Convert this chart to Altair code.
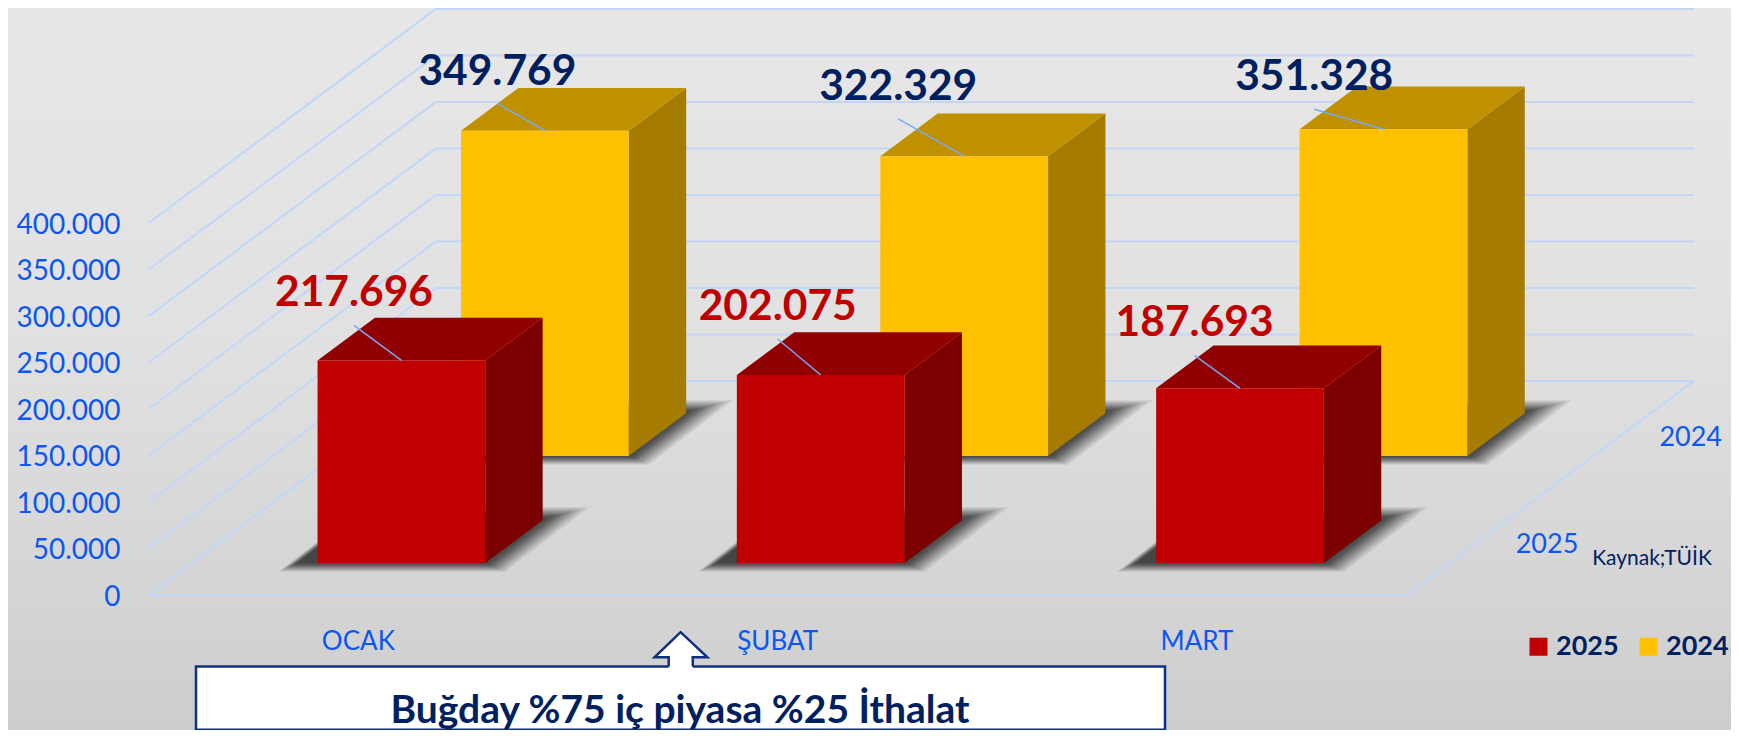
import altair as alt
import pandas as pd

# ---- data
months = ["OCAK", "ŞUBAT", "MART"]
values_2025 = [217696, 202075, 187693]
values_2024 = [349769, 322329, 351328]
label_2025 = ["217.696", "202.075", "187.693"]
label_2024 = ["349.769", "322.329", "351.328"]
axis_ticks = [0, 50000, 100000, 150000, 200000, 250000, 300000, 350000, 400000]
series = ["2025", "2024"]
note = "Buğday %75 iç piyasa %25 İthalat"
source = "Kaynak;TÜİK"

# ---- layout
W, H = 1723, 722
K = 0.00093       # px per value unit
FLOOR = 587.0     # plot y of value 0 at front of floor
X0, PITCH, DX = 140.7, 419.3, 287.0
DV = 230000.0     # vertical run of the floor depth, in value units
NAVY, BLUE, GRID, LEAD = "#002060", "#0B57F0", "#C2D6FA", "#78A8F8"
FONT = "Lato"
# label offsets from the centre of each front-top edge (dx, up) in px
off_2025 = [(-47.4, 67), (-43, 68), (-45.4, 65)]
off_2024 = [(-47.5, 59), (-66, 69.4), (-69.3, 52)]
# spread of the stacked translucent shapes that make the soft floor shadow
shadow_spread = [15, 13, 11, 9.5, 8, 6.5, 5, 4, 3, 2, 1, 0, -1, -2, -3.5, -5]


def X(col, d):
    return X0 + col * PITCH + d * DX


def Yv(val, d):
    return val + d * DV


def rx(x):
    return x - 8


def ry(y):
    return (FLOOR - (1 + (y - 4.3) * 0.9853)) / K


xs = alt.Scale(domain=[0, W], range=[0, W], nice=False, zero=False)
ys = alt.Scale(domain=[(FLOOR - H) / K, FLOOR / K], nice=False, zero=False)
y_axis = alt.Axis(
    values=axis_ticks, orient="left", offset=-112, domain=False, ticks=False, grid=False,
    labelPadding=0, labelFont=FONT, labelFontSize=28, labelColor=BLUE, labelOffset=2,
    labelFlush=False, labelOverlap=False, title=None, zindex=1,
    labelExpr="replace(format(datum.value, ','), ',', '.')")
xe = alt.X("x:Q", scale=xs, axis=None)
x2e = alt.X2("x2:Q")
ye = alt.Y("y:Q", scale=ys, axis=y_axis)
y2e = alt.Y2("y2:Q")

# ---- background
bg = pd.DataFrame({"x": [0], "x2": [W], "y": [ys.domain[0]], "y2": [ys.domain[1]]})
bg_layer = alt.Chart(bg).mark_rect(
    color=alt.Gradient(
        gradient="linear", x1=0, x2=0, y1=0, y2=1,
        stops=[
            alt.GradientStop(offset=0, color="#E7E7E7"),
            alt.GradientStop(offset=0.45, color="#E1E1E1"),
            alt.GradientStop(offset=0.8, color="#D5D5D5"),
            alt.GradientStop(offset=1, color="#CDCDCD"),
        ],
    )
).encode(x=xe, x2=x2e, y=ye, y2=y2e)

# ---- grid lines of wall and floor
rows = []
for t in axis_ticks:
    rows += [dict(id=f"b{t}", x=X(0, 1), y=Yv(t, 1), o=0), dict(id=f"b{t}", x=X(3, 1), y=Yv(t, 1), o=1)]
    rows += [dict(id=f"s{t}", x=X(0, 0), y=Yv(t, 0), o=0), dict(id=f"s{t}", x=X(0, 1), y=Yv(t, 1), o=1)]
rows += [dict(id="f", x=X(0, 0), y=Yv(0, 0), o=0), dict(id="f", x=X(3, 0), y=Yv(0, 0), o=1), dict(id="f", x=X(3, 1), y=Yv(0, 1), o=2)]
grid_layer = alt.Chart(pd.DataFrame(rows)).mark_line(color=GRID, strokeWidth=2).encode(
    x=xe, y=ye, detail="id:N", order="o:Q")

legend = alt.Legend(
    orient="none", legendX=rx(1525), legendY=625, direction="horizontal", columns=2, title=None,
    symbolType="square", symbolSize=324, symbolStrokeWidth=0, labelFont=FONT, labelFontSize=27,
    labelFontWeight="bold", labelColor=NAVY, columnPadding=16, labelOffset=4, padding=0)
colour = alt.Color("year:N", scale=alt.Scale(domain=series, range=["#C00000", "#FFC000"]), legend=legend)


def bar_layers(values, row, year, top, side):
    df_, db_ = row * 0.5 + 0.15, row * 0.5 + 0.35
    shadow, tops, sides, fronts = [], [], [], []
    for c, v in enumerate(values):
        L, R = X(c + 0.3, df_), X(c + 0.7, df_)
        base, back = Yv(0, df_), Yv(0, db_)
        for n, e in enumerate(shadow_spread):
            low = base - (2 + 0.45 * e) / K
            hi = back + (4 + 0.6 * e) / K
            s = 1.3 * (hi - low) * K
            shadow += [
                dict(id=f"{c}-{n}", y=low, x=L - 24 - e, x2=R + 5 + e),
                dict(id=f"{c}-{n}", y=hi, x=L - 24 - e + s, x2=R + 5 + e + s),
            ]
        tops += [
            dict(id=c, y=Yv(v, df_), x=L, x2=R),
            dict(id=c, y=Yv(v, db_), x=X(c + 0.3, db_), x2=X(c + 0.7, db_)),
        ]
        sides += [
            dict(id=c, x=R, y=Yv(0, df_), y2=Yv(v, df_)),
            dict(id=c, x=X(c + 0.7, db_), y=Yv(0, db_), y2=Yv(v, db_)),
        ]
        fronts.append(dict(year=year, x=L, x2=R, y=Yv(0, df_), y2=Yv(v, df_)))
    return [
        alt.Chart(pd.DataFrame(shadow)).mark_area(orient="horizontal", color="#1E1E1E", opacity=0.09)
        .encode(y=ye, x=xe, x2=x2e, detail="id:N"),
        alt.Chart(pd.DataFrame(sides)).mark_area(orient="vertical", color=side)
        .encode(x=xe, y=ye, y2=y2e, detail="id:N"),
        alt.Chart(pd.DataFrame(tops)).mark_area(orient="horizontal", color=top)
        .encode(y=ye, x=xe, x2=x2e, detail="id:N"),
        alt.Chart(pd.DataFrame(fronts)).mark_rect().encode(x=xe, x2=x2e, y=ye, y2=y2e, color=colour),
    ]


layers_2024 = bar_layers(values_2024, 1, "2024", "#BF9000", "#A67C00")
layers_2025 = bar_layers(values_2025, 0, "2025", "#900000", "#7C0000")

# ---- data labels and their leader lines
lab_rows, lead_rows = [], []
for vals, labs, offs, row, col in [
    (values_2024, label_2024, off_2024, 1, NAVY),
    (values_2025, label_2025, off_2025, 0, "#C00000"),
]:
    d = row * 0.5 + 0.15
    for c, (v, t, (dx, up)) in enumerate(zip(vals, labs, offs)):
        ax, ay = X(c + 0.5, d), Yv(v, d)
        lx, ly = ax + dx, ay + up / K
        lab_rows.append(dict(x=lx, y=ly, t=t, col=col))
        lead_rows += [
            dict(id=t, x=lx, y=ly - 32 / K, o=0),
            dict(id=t, x=ax, y=ay, o=1),
        ]
lead_layer = alt.Chart(pd.DataFrame(lead_rows)).mark_line(color=LEAD, strokeWidth=1.5).encode(
    x=xe, y=ye, detail="id:N", order="o:Q")
lab_layer = alt.Chart(pd.DataFrame(lab_rows)).mark_text(
    font=FONT, fontSize=42.5, fontWeight="bold", align="center", baseline="middle"
).encode(x=xe, y=ye, text="t:N", color=alt.Color("col:N", scale=None, legend=None))

# ---- category and series labels
cat = pd.DataFrame({"x": [X(i + 0.5, 0) for i in range(3)], "y": [ry(647)] * 3, "t": months})
cat_layer = alt.Chart(cat).mark_text(font=FONT, fontSize=26, color=BLUE, align="center", baseline="middle").encode(
    x=xe, y=ye, text="t:N")
ser = pd.DataFrame({"x": [rx(1547), rx(1690.7)], "y": [ry(548), ry(440)], "t": series})
ser_layer = alt.Chart(ser).mark_text(font=FONT, fontSize=27, color=BLUE, align="center", baseline="middle").encode(
    x=xe, y=ye, text="t:N")
src = pd.DataFrame({"x": [rx(1652)], "y": [ry(563)], "t": [source]})
src_layer = alt.Chart(src).mark_text(font=FONT, fontSize=21, color=NAVY, align="center", baseline="middle").encode(
    x=xe, y=ye, text="t:N")

# ---- note box with arrow
box = pd.DataFrame({"x": [rx(196)], "x2": [rx(1165)], "y": [ry(671.7)], "y2": [ry(735.7)]})
box_layer = alt.Chart(box).mark_rect(fill="white", stroke="#0F2F80", strokeWidth=2.5).encode(x=xe, x2=x2e, y=ye, y2=y2e)
tip, hl, hr, sl, sr = rx(680.6), rx(654.5), rx(707.4), rx(668.7), rx(692.8)
head = pd.DataFrame({"x": [hl, tip, hr], "y": [ry(662.3)] * 3, "y2": [ry(662.3), ry(636.7), ry(662.3)]})
head_layer = alt.Chart(head).mark_area(orient="vertical", color="white").encode(x=xe, y=ye, y2=y2e)
shaft = pd.DataFrame({"x": [sl], "x2": [sr], "y": [ry(660)], "y2": [ry(674)]})
shaft_layer = alt.Chart(shaft).mark_rect(color="white").encode(x=xe, x2=x2e, y=ye, y2=y2e)
outline = pd.DataFrame({
    "x": [sl, sl, hl, tip, hr, sr, sr],
    "y": [ry(671.7), ry(662.3), ry(662.3), ry(636.7), ry(662.3), ry(662.3), ry(671.7)],
    "o": list(range(7)),
})
outline_layer = alt.Chart(outline).mark_line(color="#0F2F80", strokeWidth=2.5).encode(x=xe, y=ye, order="o:Q")
note_df = pd.DataFrame({"x": [rx(680)], "y": [ry(717)], "t": [note]})
note_layer = alt.Chart(note_df).mark_text(font=FONT, fontSize=39, fontWeight="bold", color=NAVY, align="center", baseline="middle").encode(
    x=xe, y=ye, text="t:N")

chart = alt.layer(
    bg_layer, grid_layer, *layers_2024, *layers_2025, lead_layer, lab_layer,
    cat_layer, ser_layer, src_layer, box_layer, shaft_layer, head_layer, outline_layer, note_layer,
).properties(
    width=W, height=H, padding=0,
    autosize=alt.AutoSizeParams(type="none", contains="padding"),
).configure_view(stroke=None)

chart.save("out.html", embed_options={"renderer": "svg", "actions": False})
